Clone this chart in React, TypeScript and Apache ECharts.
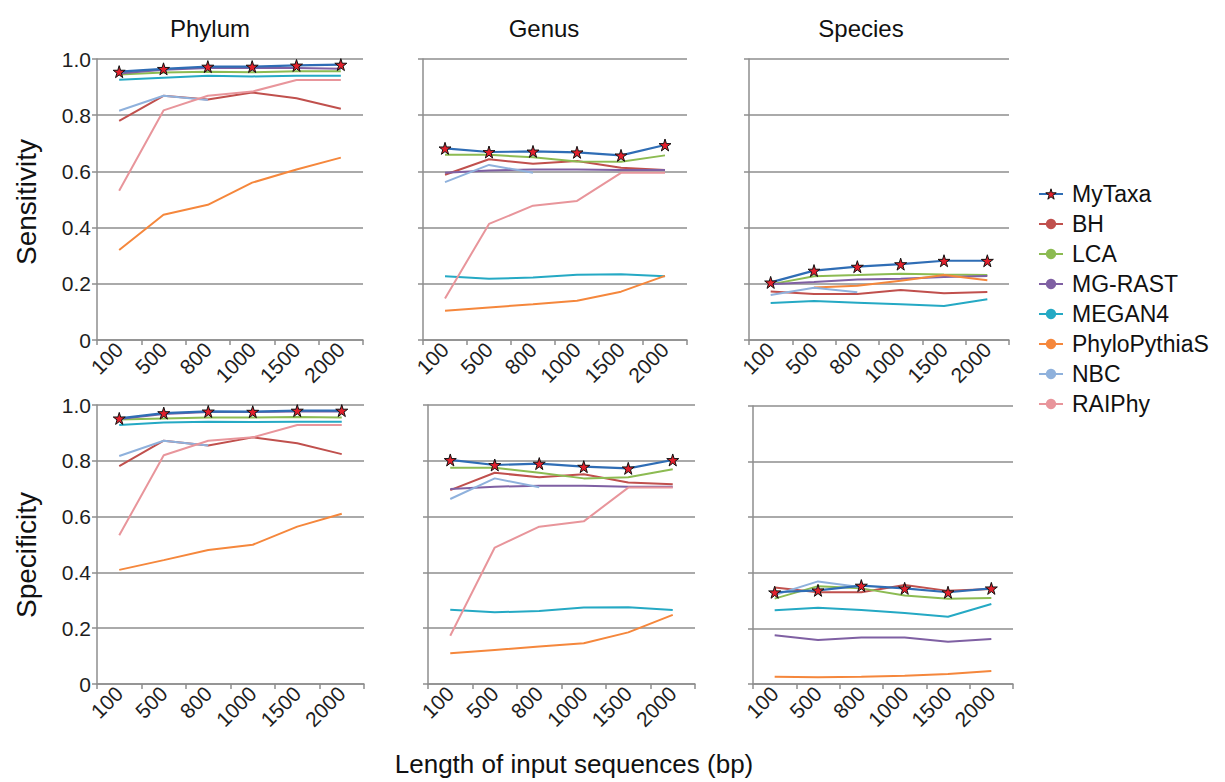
import React, { useEffect, useRef } from "react";
import * as echarts from "echarts";

const methods = ["MyTaxa", "BH", "LCA", "MG-RAST", "MEGAN4", "PhyloPythiaS", "NBC", "RAIPhy"];
const lengths = ["100", "500", "800", "1000", "1500", "2000"];
const panelTitles = ["Phylum", "Genus", "Species"];
const rowTitles = ["Sensitivity", "Specificity"];
const xTitle = "Length of input sequences (bp)";

// rows follow the order of `methods`
const sensitivityPhylum = [
  [0.955, 0.965, 0.973, 0.973, 0.977, 0.98],
  [0.78, 0.869, 0.856, 0.881, 0.86, 0.823],
  [0.945, 0.952, 0.955, 0.953, 0.956, 0.956],
  [0.948, 0.962, 0.968, 0.968, 0.968, 0.965],
  [0.926, 0.933, 0.94, 0.938, 0.94, 0.94],
  [0.32, 0.446, 0.481, 0.56, 0.607, 0.649],
  [0.816, 0.869, 0.854, null, null, null],
  [0.531, 0.817, 0.869, 0.884, 0.925, 0.925],
];
const sensitivityGenus = [
  [0.682, 0.669, 0.671, 0.668, 0.657, 0.694],
  [0.588, 0.643, 0.627, 0.637, 0.613, 0.605],
  [0.659, 0.659, 0.65, 0.635, 0.634, 0.657],
  [0.595, 0.603, 0.607, 0.607, 0.605, 0.605],
  [0.227, 0.218, 0.222, 0.232, 0.234, 0.227],
  [0.104, 0.116, 0.127, 0.14, 0.172, 0.228],
  [0.562, 0.623, 0.595, null, null, null],
  [0.148, 0.413, 0.478, 0.495, 0.595, 0.595],
];
const sensitivitySpecies = [
  [0.205, 0.247, 0.261, 0.27, 0.282, 0.282],
  [0.173, 0.164, 0.164, 0.178, 0.166, 0.171],
  [0.198, 0.227, 0.231, 0.236, 0.233, 0.231],
  [0.198, 0.206, 0.215, 0.218, 0.224, 0.228],
  [0.132, 0.139, 0.133, 0.127, 0.121, 0.145],
  [null, 0.187, 0.193, 0.211, 0.231, 0.213],
  [0.16, 0.186, 0.17, null, null, null],
  [null, null, null, null, null, null],
];
const specificityPhylum = [
  [0.952, 0.971, 0.977, 0.976, 0.98, 0.98],
  [0.781, 0.872, 0.855, 0.884, 0.863, 0.824],
  [0.948, 0.952, 0.955, 0.955, 0.957, 0.955],
  [0.95, 0.968, 0.975, 0.975, 0.977, 0.977],
  [0.928, 0.937, 0.94, 0.939, 0.94, 0.94],
  [0.409, 0.444, 0.48, 0.499, 0.564, 0.61],
  [0.817, 0.872, 0.855, null, null, null],
  [0.533, 0.82, 0.872, 0.884, 0.928, 0.928],
];
const specificityGenus = [
  [0.803, 0.785, 0.79, 0.779, 0.773, 0.803],
  [0.695, 0.757, 0.741, 0.752, 0.722, 0.716],
  [0.775, 0.775, 0.757, 0.737, 0.741, 0.77],
  [0.699, 0.707, 0.711, 0.711, 0.707, 0.707],
  [0.266, 0.257, 0.262, 0.274, 0.275, 0.265],
  [0.11, 0.122, 0.134, 0.146, 0.185, 0.248],
  [0.663, 0.737, 0.705, null, null, null],
  [0.173, 0.489, 0.564, 0.583, 0.704, 0.704],
];
const specificitySpecies = [
  [0.33, 0.337, 0.354, 0.344, 0.33, 0.344],
  [0.347, 0.33, 0.33, 0.356, 0.335, 0.342],
  [0.307, 0.352, 0.344, 0.318, 0.307, 0.309],
  [0.175, 0.158, 0.167, 0.167, 0.152, 0.162],
  [0.265, 0.274, 0.266, 0.255, 0.242, 0.288],
  [0.026, 0.024, 0.026, 0.03, 0.036, 0.047],
  [0.32, 0.369, 0.348, null, null, null],
  [null, null, null, null, null, null],
];

const panels = [
  sensitivityPhylum,
  sensitivityGenus,
  sensitivitySpecies,
  specificityPhylum,
  specificityGenus,
  specificitySpecies,
];

const colors = ["#2f6db5", "#c0504d", "#8cbb52", "#7f60a3", "#25a9c4", "#f5873c", "#8fb1dc", "#e8959b"];

const gridBoxes = [
  { left: 97, top: 59, width: 266, height: 281 },
  { left: 423, top: 59, width: 264, height: 281 },
  { left: 749, top: 59, width: 260, height: 281 },
  { left: 97, top: 405, width: 267, height: 279 },
  { left: 428, top: 405, width: 267, height: 279 },
  { left: 753, top: 406, width: 260, height: 278 },
];

const STAR = "path://M50,0 L61,35 L98,35 L68,57 L79,91 L50,70 L21,91 L32,57 L2,35 L39,35 Z";
const FONT = "Liberation Sans, Arial, sans-serif";
const AXIS_GREY = "#8e8e8e";
const STAR_STYLE = { color: "#e3202c", borderColor: "#111", borderWidth: 1 };

export default function App() {
  const ref = useRef<HTMLDivElement>(null);
  useEffect(() => {
    document.body.style.margin = "0";
    if (!ref.current) return;
    const chart = echarts.init(ref.current, undefined, { renderer: "svg" });

    const grid = gridBoxes.map((g) => ({ ...g, containLabel: false, outerBoundsMode: "none" }));
    const xAxis = gridBoxes.map((_, i) => ({
      type: "category",
      gridIndex: i,
      data: lengths,
      boundaryGap: true,
      axisLine: { lineStyle: { color: AXIS_GREY, width: 1.5 } },
      axisTick: { show: true, interval: 0, length: 5, lineStyle: { color: AXIS_GREY, width: 1.5 } },
      axisLabel: { interval: 0, rotate: 45, fontSize: 21, color: "#1e1e1e", fontFamily: FONT, margin: 6 },
      splitLine: { show: false },
    }));
    const yAxis = gridBoxes.map((_, i) => ({
      type: "value",
      gridIndex: i,
      min: 0,
      max: 1,
      interval: 0.2,
      axisLine: { show: true, lineStyle: { color: AXIS_GREY, width: 1.5 } },
      axisTick: { show: true, length: 5, lineStyle: { color: AXIS_GREY, width: 1.5 } },
      axisLabel: {
        show: i % 3 === 0,
        fontSize: 21,
        color: "#1e1e1e",
        fontFamily: FONT,
        margin: 6,
        formatter: (v: number) => (v === 0 ? "0" : v.toFixed(1)),
      },
      splitLine: { show: true, lineStyle: { color: AXIS_GREY, width: 1.5 } },
    }));

    const series: any[] = [];
    panels.forEach((panel, pi) => {
      // draw MyTaxa last so it is on top
      const order = [1, 2, 3, 4, 5, 6, 7, 0];
      order.forEach((mi) => {
        const isMy = mi === 0;
        series.push({
          type: "line",
          name: methods[mi],
          xAxisIndex: pi,
          yAxisIndex: pi,
          data: panel[mi],
          symbol: isMy ? STAR : "none",
          symbolSize: 12,
          showSymbol: isMy,
          z: isMy ? 5 : 2,
          lineStyle: { color: colors[mi], width: isMy ? 2.2 : 2 },
          itemStyle: isMy ? STAR_STYLE : { color: colors[mi] },
          emphasis: { disabled: true },
        });
      });
    });

    const graphic: any[] = [];
    const titleX = [210, 544, 861];
    panelTitles.forEach((t, i) => {
      graphic.push({
        type: "text",
        x: titleX[i],
        y: 28,
        style: { text: t, fontSize: 24, fontFamily: FONT, fill: "#111", align: "center", verticalAlign: "middle" },
      });
    });
    const rowY = [202, 555];
    rowTitles.forEach((t, i) => {
      graphic.push({
        type: "text",
        x: 26,
        y: rowY[i],
        rotation: Math.PI / 2,
        style: { text: t, fontSize: 28, fontFamily: FONT, fill: "#111", align: "center", verticalAlign: "middle" },
      });
    });
    graphic.push({
      type: "text",
      x: 574,
      y: 764,
      style: { text: xTitle, fontSize: 26, fontFamily: FONT, fill: "#111", align: "center", verticalAlign: "middle" },
    });

    chart.setOption({
      animation: false,
      backgroundColor: "#ffffff",
      grid,
      xAxis,
      yAxis,
      series,
      graphic,
      legend: {
        data: methods.map((m, i) =>
          i === 0 ? { name: m, itemStyle: STAR_STYLE, lineStyle: { color: colors[0], width: 2 } } : { name: m }
        ),
        orient: "vertical",
        left: 1038,
        top: 182,
        padding: 0,
        itemWidth: 24,
        itemHeight: 13,
        itemGap: 6,
        selectedMode: false,
        textStyle: { fontSize: 23, fontFamily: FONT, color: "#111", lineHeight: 24, padding: [0, 0, 0, 4] },
      },
    });
    return () => chart.dispose();
  }, []);
  return <div ref={ref} style={{ width: 1225, height: 782 }} />;
}
